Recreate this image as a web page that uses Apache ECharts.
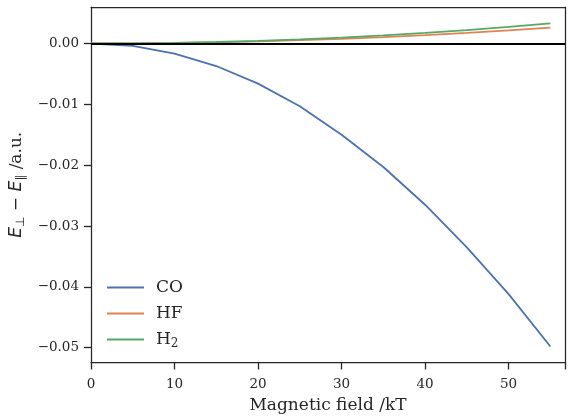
<!DOCTYPE html>
<html>
<head>
<meta charset="utf-8">
<script src="https://cdn.jsdelivr.net/npm/echarts@6/dist/echarts.min.js"></script>
<style>html,body{margin:0;padding:0;background:#fff}#c{width:568px;height:419px}</style>
</head>
<body>
<div id="c"></div>
<script>
const fieldKT = [0, 5, 10, 15, 20, 25, 30, 35, 40, 45, 50, 55];
const coValues = [0, -0.0004, -0.00165, -0.0037, -0.0066, -0.0103, -0.0150, -0.0203, -0.0265, -0.0335, -0.0412, -0.0498];
const hfValues = [0, 0.00002, 0.00009, 0.00019, 0.00034, 0.00054, 0.00077, 0.00105, 0.00137, 0.00174, 0.00215, 0.0026];
const h2Values = [0, 0.00003, 0.00011, 0.00025, 0.00044, 0.00068, 0.00098, 0.00134, 0.00175, 0.00221, 0.00273, 0.0033];

const FONT = 'DejaVu Serif';
const INK = '#262626';
const pairs = v => fieldKT.map((x, i) => [x, v[i]]);
const X_MIN = 0, X_MAX = 56.75, Y_MIN = -0.05243, Y_MAX = 0.006;
const frame = {show: true, onZero: false, lineStyle: {color: INK, width: 1.25}};
const yFmt = v => {
  const r = Math.round(v * 100);
  if (Math.abs(v * 100 - r) > 1e-6) return '';
  return (r / 100).toFixed(2).replace('-', '\u2212');
};

const chart = echarts.init(document.getElementById('c'), null, {renderer: 'canvas'});
chart.setOption({
  animation: false,
  backgroundColor: '#fff',
  grid: {left: 91, right: 1, top: 7, bottom: 52},
  legend: {
    orient: 'vertical', left: 102, top: 274, itemGap: 9,
    icon: 'rect', itemWidth: 37, itemHeight: 2,
    textStyle: {fontFamily: FONT, fontSize: 17, color: INK, padding: [0, 0, 0, 7],
      rich: {sub: {fontFamily: FONT, fontSize: 12, color: INK, padding: [8, 0, 0, 0]}}},
    formatter: n => n === 'H2' ? 'H{sub|2}' : n,
    data: ['CO', 'HF', 'H2']
  },
  xAxis: [{
    type: 'value', position: 'bottom', min: X_MIN, max: X_MAX, interval: 10,
    name: 'Magnetic field /kT', nameLocation: 'middle', nameGap: 34.5,
    nameTextStyle: {fontFamily: FONT, fontSize: 17, color: INK},
    axisLine: frame,
    axisTick: {show: true, inside: false, length: 7, lineStyle: {color: INK, width: 1.3}},
    axisLabel: {fontFamily: FONT, fontSize: 13.5, color: INK, margin: 15,
      formatter: v => (v % 10 === 0 ? String(v) : '')},
    splitLine: {show: false}
  }, {
    type: 'value', position: 'top', min: X_MIN, max: X_MAX,
    axisLine: frame, axisTick: {show: false}, axisLabel: {show: false}, splitLine: {show: false}
  }],
  yAxis: [{
    type: 'value', position: 'left', min: Y_MIN, max: Y_MAX, splitNumber: 5,
    name: '{i|E}{sub|⊥} − {i|E}{sub|∥} /a.u.', nameLocation: 'middle', nameGap: 62, nameRotate: 90,
    nameTextStyle: {fontFamily: FONT, fontSize: 17, color: INK,
      rich: {
        i: {fontFamily: 'DejaVu Sans', fontStyle: 'italic', fontSize: 17, color: INK},
        sub: {fontFamily: 'DejaVu Sans', fontSize: 12, color: INK, padding: [8, 0, 0, 0]}
      }},
    axisLine: frame,
    axisTick: {show: true, inside: false, length: 7, lineStyle: {color: INK, width: 1.3}},
    axisLabel: {fontFamily: FONT, fontSize: 13.5, color: INK, margin: 12,
      showMinLabel: false, showMaxLabel: false, formatter: yFmt},
    splitLine: {show: false}
  }, {
    type: 'value', position: 'right', min: Y_MIN, max: Y_MAX,
    axisLine: frame, axisTick: {show: false}, axisLabel: {show: false}, splitLine: {show: false}
  }],
  series: [
    {name: 'CO', type: 'line', data: pairs(coValues), showSymbol: false, symbol: 'none',
     lineStyle: {color: '#4C72B0', width: 1.8}, itemStyle: {color: '#4C72B0'},
     markLine: {silent: true, symbol: 'none', label: {show: false}, lineStyle: {color: '#000', width: 2, type: 'solid'},
       data: [{yAxis: 0}]}},
    {name: 'HF', type: 'line', data: pairs(hfValues), showSymbol: false, symbol: 'none',
     lineStyle: {color: '#DD8452', width: 1.8}, itemStyle: {color: '#DD8452'}},
    {name: 'H2', type: 'line', data: pairs(h2Values), showSymbol: false, symbol: 'none',
     lineStyle: {color: '#55A868', width: 1.8}, itemStyle: {color: '#55A868'}}
  ]
});
</script>
</body>
</html>
